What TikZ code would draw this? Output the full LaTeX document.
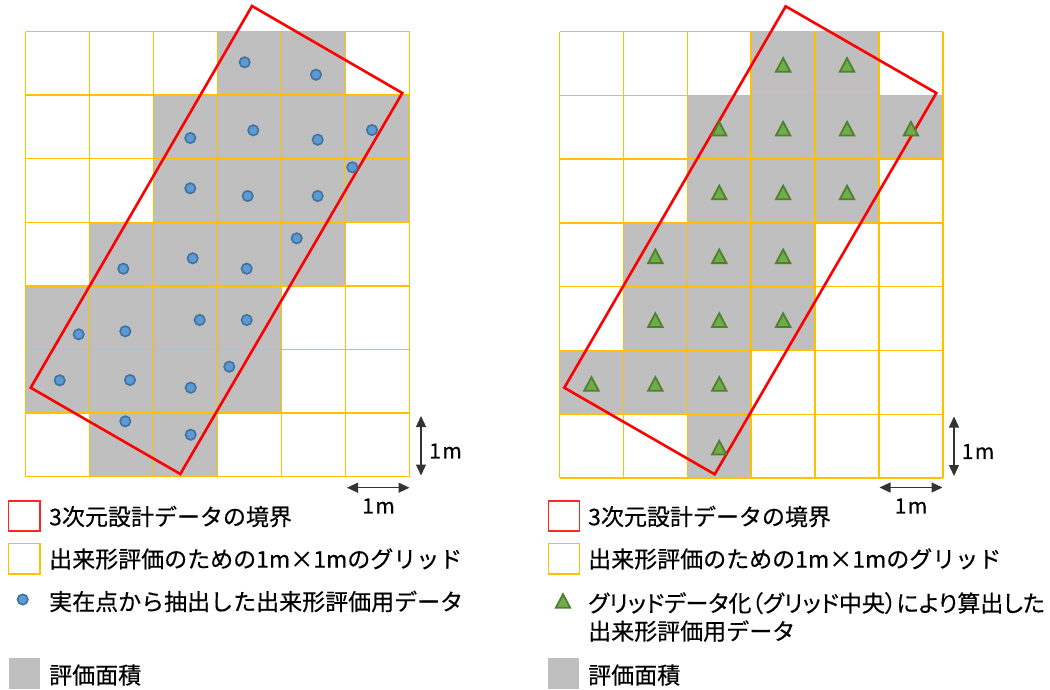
\documentclass[tikz,border=0pt]{standalone}
\usepackage{fontspec}
\setmainfont[FakeBold=0.4]{Noto Sans CJK JP}
\newfontfamily\jpprop[RawFeature=+palt,FakeBold=0.4]{Noto Sans CJK JP}
\usetikzlibrary{arrows.meta}
\definecolor{gridY}{HTML}{FFC000}
\definecolor{bndR}{HTML}{FF0000}
\definecolor{areaG}{HTML}{BFBFBF}
\definecolor{dotF}{HTML}{5B9BD5}
\definecolor{dotB}{HTML}{41719C}
\definecolor{triF}{HTML}{70AD47}
\definecolor{triB}{HTML}{507E32}
\tikzset{
  gridline/.style={draw=gridY, line width=1.5pt},
  cellfill/.style={fill=areaG},
  boundary/.style={draw=bndR, line width=2.6pt, line join=miter},
  dotmark/.style={fill=dotF, draw=dotB, line width=1.6pt},
  scalearrow/.style={draw=black!80, line width=1.3pt, {Triangle[width=10pt,length=11pt]}-{Triangle[width=10pt,length=11pt]}},
  legtext/.style={font=\fontsize{23}{28}\selectfont, inner sep=0pt, anchor=west, align=left},
  unittext/.style={font=\fontsize{21}{24}\selectfont, inner sep=0pt},
  legbox/.style={line width=1.5pt, fill=white},
  tri/.pic={\filldraw[fill=triF, draw=triB, line width=1.8pt, line join=miter] (-7.2,6.8) -- (7.2,6.8) -- (0,-6.8) -- cycle;}
}
\begin{document}
\begin{tikzpicture}[x=1pt, y=-1pt]
\useasboundingbox[fill=white] (0,0) rectangle (1050,689);

% ---------- left panel ----------
\begin{scope}[shift={(25.5,31.5)}, x=64pt, y=-63.6pt]
  \foreach \c/\r in {3/0,4/0, 2/1,3/1,4/1,5/1, 2/2,3/2,4/2,5/2, 1/3,2/3,3/3,4/3, 0/4,1/4,2/4,3/4, 0/5,1/5,2/5,3/5, 1/6,2/6}
    \fill[cellfill] (\c,\r) rectangle ++(1,1);
  \foreach \i in {0,...,6} \draw[gridline] (\i,0) -- (\i,7);
  \foreach \j in {0,...,7} \draw[gridline] (0,\j) -- (6,\j);
\end{scope}
\coordinate (LT) at (252,6);
\coordinate (LR) at (402.3,93);
\coordinate (LB) at (180.3,474);
\coordinate (LL) at (30.7,387.7);
\draw[boundary] (LT) -- (LR) -- (LB) -- (LL) -- cycle;
\foreach \x/\y in {244.7/62.3, 316/74.7, 190.3/138, 253.3/130.3, 317.7/139.7, 372/130, 352.3/167.3,
  190.3/188.3, 247.7/196, 317.7/196, 296.7/238.3, 123.3/268.7, 192.7/258.3, 246.7/268.7,
  78.7/334.3, 125.3/331.3, 199.7/320, 246.7/320, 59.7/380.3, 130/380, 190.7/387.7, 229.3/366.7,
  125.3/421.3, 190.7/434.7}
  \filldraw[dotmark] (\x,\y) circle (5.2);

% scale arrows left
\coordinate (lvA) at (421,416);
\coordinate (lvB) at (421,475.5);
\draw[scalearrow] (lvA) -- (lvB);
\node[unittext] (lvT) at (445.5,451) {1\kern1.5pt m};
\coordinate (lhA) at (347,487.7);
\coordinate (lhB) at (409.5,487.7);
\draw[scalearrow] (lhA) -- (lhB);
\node[unittext] (lhT) at (378.5,506) {1\kern1.5pt m};

% ---------- right panel ----------
\begin{scope}[shift={(559.5,31.5)}, x=63.9pt, y=-63.8pt]
  \foreach \c/\r in {3/0,4/0, 2/1,3/1,4/1,5/1, 2/2,3/2,4/2, 1/3,2/3,3/3, 1/4,2/4,3/4, 0/5,1/5,2/5, 2/6}
    \fill[cellfill] (\c,\r) rectangle ++(1,1);
  \foreach \i in {0,...,6} \draw[gridline] (\i,0) -- (\i,7);
  \foreach \j in {0,...,7} \draw[gridline] (0,\j) -- (6,\j);
\end{scope}
\coordinate (RT) at (785.7,6.3);
\coordinate (RR) at (936.3,93);
\coordinate (RB) at (714.7,474.3);
\coordinate (RL) at (564.3,387.7);
\draw[boundary] (RT) -- (RR) -- (RB) -- (RL) -- cycle;
\foreach \c/\r in {3/0,4/0, 2/1,3/1,4/1,5/1, 2/2,3/2,4/2, 1/3,2/3,3/3, 1/4,2/4,3/4, 0/5,1/5,2/5, 2/6}
  \pic at ({559.5+63.9*(\c+0.5)},{31.5+63.8*(\r+0.5)+1.5}) {tri};

% scale arrows right
\coordinate (rvA) at (954,416.5);
\coordinate (rvB) at (954,476);
\draw[scalearrow] (rvA) -- (rvB);
\node[unittext] (rvT) at (978,451.5) {1\kern1.5pt m};
\coordinate (rhA) at (879.5,487.5);
\coordinate (rhB) at (942.5,487.5);
\draw[scalearrow] (rhA) -- (rhB);
\node[unittext] (rhT) at (911,506) {1\kern1.5pt m};

% ---------- left legend ----------
\draw[legbox, draw=bndR!85] (8.5,501) rectangle (40,531);
\node[legtext] (ll1) at (49,516.5) {3次元設計データの境界};
\draw[legbox, draw=gridY] (8.5,543.5) rectangle (40,574);
\node[legtext] (ll2) at (49,559) {出来形評価のための1m×1mのグリッド};
\filldraw[dotmark] (22.7,599.5) circle (5.2);
\node[legtext] (ll3) at (49,601.5) {実在点から抽出した出来形評価用データ};
\fill[cellfill] (9,657.5) rectangle (40,689);
\node[legtext] (ll4) at (49,675) {評価面積};

% ---------- right legend ----------
\draw[legbox, draw=bndR!85] (548.5,501) rectangle (579.5,531);
\node[legtext] (rl1) at (588,516.5) {3次元設計データの境界};
\draw[legbox, draw=gridY] (548.5,543.5) rectangle (579.5,574);
\node[legtext] (rl2) at (588,559) {出来形評価のための1m×1mのグリッド};
\pic at (563,601) {tri};
\node[legtext] (rl3) at (588,617) {{\jpprop グリッドデータ化（グリッド中央）により算出した}\\出来形評価用データ};
\fill[cellfill] (548,657.5) rectangle (579,689);
\node[legtext] (rl4) at (588,675) {評価面積};
\end{tikzpicture}
\end{document}
